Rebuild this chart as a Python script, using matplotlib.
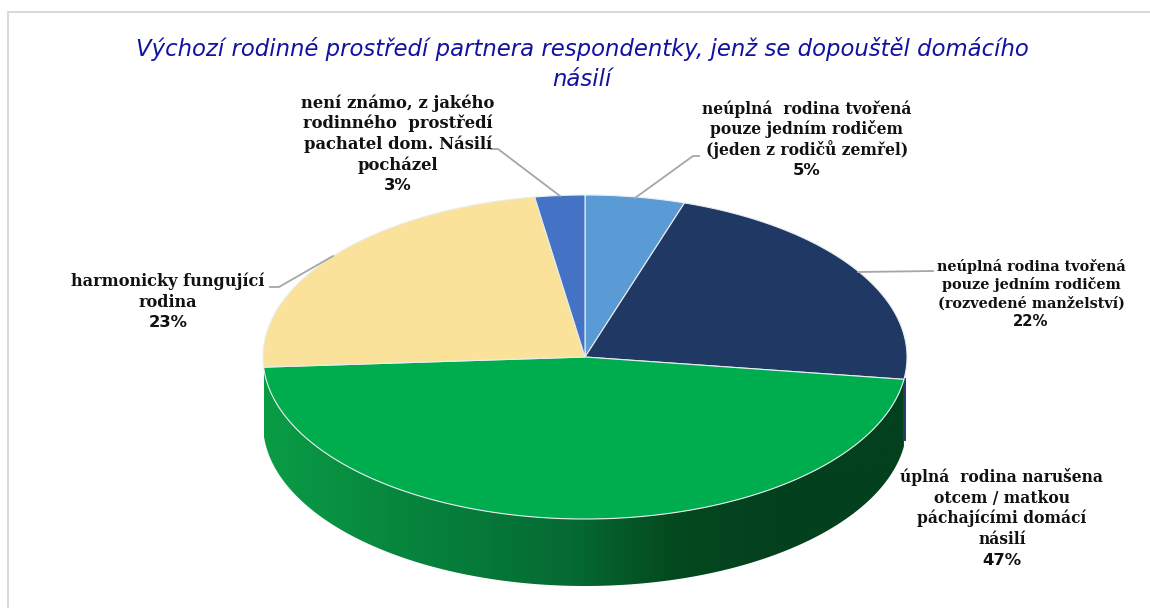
import numpy as np
import matplotlib
matplotlib.use("Agg")
import matplotlib.pyplot as plt
from matplotlib.colors import LinearSegmentedColormap
from matplotlib.patches import Polygon

title_lines = "Výchozí rodinné prostředí partnera respondentky, jenž se dopouštěl domácího\nnásilí"
categories = [
    "neúplná  rodina tvořená\npouze jedním rodičem\n(jeden z rodičů zemřel)",
    "neúplná rodina tvořená\npouze jedním rodičem\n(rozvedené manželství)",
    "úplná  rodina narušena\notcem / matkou\npáchajícími domácí\nnásilí",
    "harmonicky fungující\nrodina",
    "není známo, z jakého\nrodinného  prostředí\npachatel dom. Násilí\npocházel",
]
values = [5.0, 22.2, 46.8, 23.5, 2.5]
percent_labels = ["5%", "22%", "47%", "23%", "3%"]
slice_colors = ["#5B9BD5", "#1F3864", "#00AD4E", "#FBE29A", "#4472C4"]
label_pos = [(807, 140), (1031, 294), (1002, 518.5), (168, 302), (398, 144)]
label_sizes = [11.2, 10.35, 11.2, 11.6, 11.8]
pct_sizes = [11.8, 10.7, 11.8, 11.8, 11.8]
line_steps = [20.5, 18.2, 20.7, 20.5, 20.6]
leader_lines = [
    [(635, 198), (693, 156), (699, 156)],
    [(858, 272), (933, 271)],
    None,
    [(333, 256), (279, 287), (270, 287)],
    [(560, 196), (498, 149), (491, 149)],
]

W, H = 1150, 608
fig = plt.figure(figsize=(W / 100, H / 100), dpi=100, facecolor="white")
ax = fig.add_axes([0, 0, 1, 1])
ax.set_xlim(0, W)
ax.set_ylim(H, 0)
ax.axis("off")

# chart frame (top and left visible)
ax.plot([8, 8, 1150], [H, 12, 12], color="#D9D9D9", lw=1.5, zorder=1)

cx, cy, rx, ry, depth = 585, 357, 322, 162, 67
fr = np.cumsum([0] + values) / sum(values) * 2 * np.pi


def rim(t):
    return cx + rx * np.sin(t), cy - ry * np.cos(t)


# side wall of the green slice with horizontal gradient
wall_t = np.linspace(fr[2], fr[3], 300)
xs, ys = rim(wall_t)
wall = np.r_[np.c_[xs, ys], np.c_[xs[::-1], ys[::-1] + depth]]
cmap = LinearSegmentedColormap.from_list(
    "wall",
    [(0, "#0A9C45"), (0.25, "#06823C"), (0.48, "#056A33"), (0.64, "#04491F"), (0.8, "#03401E"), (1, "#03401E")],
)
im = ax.imshow(np.linspace(0, 1, 256)[None, :], extent=[264, 905, 590, 360], cmap=cmap, aspect="auto", zorder=2)
im.set_clip_path(Polygon(wall, closed=True, transform=ax.transData))
ax.set_xlim(0, W)
ax.set_ylim(H, 0)

# thin navy wall sliver at the right edge
ex, ey = rim(fr[2])
ax.plot([ex + 1, ex + 1], [ey, ey + depth - 6], color="#1F3864", lw=1.4, zorder=1.5)

# top face
for i, c in enumerate(slice_colors):
    t = np.linspace(fr[i], fr[i + 1], 200)
    x, y = rim(t)
    ax.fill(np.r_[cx, x], np.r_[cy, y], facecolor=c, edgecolor="#E8EEF0", lw=0.8, joinstyle="round", zorder=3)

# leader lines
for seg in leader_lines:
    if seg:
        ax.plot(*zip(*seg), color="#A6A6A6", lw=1.3, zorder=4)

# title
ax.text(582, 64, title_lines, ha="center", va="center", color="#1212A0", fontsize=16.4,
        family="DejaVu Sans", style="oblique", linespacing=1.38)

# data labels, one baseline per line so the leading matches exactly
for cat, pct, (lx, ly), s, ps, step in zip(categories, percent_labels, label_pos, label_sizes, pct_sizes, line_steps):
    rows = cat.split("\n")
    top = ly - (len(rows) + 1) * step / 2
    for k, row in enumerate(rows):
        ax.text(lx, top + (k + 0.5) * step + s * 0.42, row, ha="center", va="baseline", fontsize=s,
                family="DejaVu Serif", weight="bold", color="#111111", zorder=5)
    ax.text(lx, top + (len(rows) + 0.5) * step + ps * 0.4, pct, ha="center", va="baseline", fontsize=ps,
            family="DejaVu Sans", weight="bold", color="#111111", zorder=5)

fig.savefig("out.png", dpi=100)
